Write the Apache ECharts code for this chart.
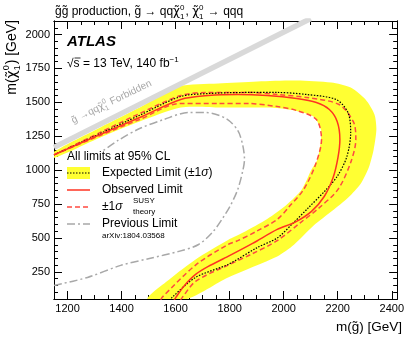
<!DOCTYPE html>
<html>
<head>
<meta charset="utf-8">
<script src="https://cdn.jsdelivr.net/npm/echarts@6/dist/echarts.min.js"></script>
<style>
html, body { margin: 0; padding: 0; background: #fff; }
#main { width: 407px; height: 340px; }
</style>
</head>
<body>
<div id="main"></div>
<script>
var FONT = '"Liberation Sans", "DejaVu Sans", Arial, sans-serif'
var GREEK = '"DejaVu Sans", "Liberation Sans", sans-serif'

// tick labels
var xLabels = [1200, 1400, 1600, 1800, 2000, 2200, 2400]
var yLabels = [250, 500, 750, 1000, 1250, 1500, 1750, 2000]

// limits, [m(gluino), m(neutralino)] in GeV
var observed = [[1150,1113],[1321,1263],[1467,1388],[1619,1521],[1721,1550],[1830,1558],[1939,1550],[2048,1528],[2121,1499],[2169,1447],[2198,1359],[2208,1226],[2201,1094],[2183,946],[2150,806],[2103,696],[2041,615],[1976,563],[1885,460],[1794,364],[1721,290],[1674,231],[1630,143],[1601,62],[1594,40]]
var expected = [[1150,1113],[1321,1270],[1467,1405],[1619,1543],[1721,1565],[1867,1573],[1976,1573],[2085,1558],[2194,1521],[2238,1425],[2248,1278],[2234,1101],[2200,960],[2158,858],[2090,720],[2030,600],[1976,500],[1903,430],[1794,305],[1674,209],[1587,62],[1580,40]]
var theoryUp = [[1150,1113],[1321,1278],[1467,1418],[1619,1550],[1721,1573],[1867,1573],[1976,1558],[2085,1536],[2205,1484],[2259,1352],[2267,1226],[2248,1057],[2201,858],[2130,720],[2060,610],[1976,480],[1880,380],[1794,300],[1674,180],[1625,62],[1618,40]]
var theoryDown = [[1150,1113],[1321,1256],[1467,1374],[1619,1492],[1757,1492],[1867,1492],[1976,1469],[2048,1440],[2121,1374],[2140,1226],[2118,1042],[2074,858],[2020,730],[1976,637],[1900,550],[1830,480],[1794,452],[1674,300],[1550,62],[1545,40]]
var bandOuter = [[1150,1135],[1321,1315],[1467,1462],[1612,1617],[1757,1639],[1903,1654],[2048,1661],[2176,1646],[2248,1609],[2303,1521],[2336,1411],[2343,1300],[2333,1153],[2315,1020],[2285,900],[2240,800],[2180,700],[2110,590],[2038,450],[1976,364],[1794,209],[1641,50]]
var bandInner = [[1150,1090],[1321,1241],[1467,1359],[1619,1462],[1757,1462],[1903,1462],[1976,1458],[2048,1436],[2110,1396],[2138,1300],[2138,1226],[2125,1079],[2103,1005],[2067,858],[2012,747],[1939,640],[1850,540],[1794,485],[1674,342],[1580,200],[1496,50]]
var previous = [[1150,150],[1274,209],[1397,298],[1503,349],[1612,401],[1685,452],[1739,548],[1776,651],[1805,747],[1830,858],[1848,990],[1855,1079],[1848,1189],[1830,1293],[1787,1381],[1710,1425],[1648,1425],[1557,1374],[1467,1307],[1387,1219],[1328,1138]]
var forbidden = [[1150,1168],[2100,2118]]

var bandPoly = bandOuter.concat(bandInner.slice().reverse())

function steps(lo, hi, d){
	var out = []
	for(var v = lo; v <= hi; v += d) out.push(v)
	return out
}

function xAx(pos, ticks, len, labels){
	return {
		type: 'value', min: 1150, max: 2420, position: pos,
		axisLine: {show: true, onZero: false, lineStyle: {color: '#000', width: 1}},
		axisTick: {show: true, inside: true, length: len, customValues: ticks, lineStyle: {color: '#000'}},
		axisLabel: labels ? {show: true, customValues: xLabels, margin: 4, color: '#000', fontSize: 11, fontFamily: FONT,
			formatter: function(v){ return String(v) }} : {show: false},
		splitLine: {show: false}
	}
}
function yAx(pos, ticks, len, labels){
	return {
		type: 'value', min: 50, max: 2100, position: pos,
		axisLine: {show: true, onZero: false, lineStyle: {color: '#000', width: 1}},
		axisTick: {show: true, inside: true, length: len, customValues: ticks, lineStyle: {color: '#000'}},
		axisLabel: labels ? {show: true, customValues: yLabels, margin: 4, color: '#000', fontSize: 11, fontFamily: FONT,
			formatter: function(v){ return String(v) }} : {show: false},
		splitLine: {show: false}
	}
}

// text laid out piece by piece so sub/superscripts can be stacked
var ctx = document.createElement('canvas').getContext('2d')
function fnt(size, p){
	p = p || {}
	return (p.i ? 'italic ' : '') + (p.b ? 'bold ' : '') + size + 'px ' + (p.g ? GREEK : FONT)
}
function wid(t, f){ ctx.font = f; return ctx.measureText(t).width }

function pieces(x, y, parts, size, opt){
	opt = opt || {}
	var color = opt.color || '#000'
	var kids = []
	var cx = 0
	parts.forEach(function(p){
		if(typeof p === 'string') p = {t: p}
		if(p.t !== undefined){
			var f = fnt(size, p)
			kids.push({type: 'text', x: cx, y: 0, style: {text: p.t, font: f, fill: color,
				align: 'left', textAlign: 'left', verticalAlign: 'middle', textVerticalAlign: 'middle'}})
			cx += wid(p.t, f)
		} else {
			var s = Math.round(size * 0.65)
			var f2 = fnt(s)
			var w = 0
			if(p.sup){
				kids.push({type: 'text', x: cx, y: -size * 0.38, style: {text: p.sup, font: f2, fill: color,
					align: 'left', textAlign: 'left', verticalAlign: 'middle', textVerticalAlign: 'middle'}})
				w = Math.max(w, wid(p.sup, f2))
			}
			if(p.sub){
				kids.push({type: 'text', x: cx, y: size * 0.36, style: {text: p.sub, font: f2, fill: color,
					align: 'left', textAlign: 'left', verticalAlign: 'middle', textVerticalAlign: 'middle'}})
				w = Math.max(w, wid(p.sub, f2))
			}
			cx += w + 1
		}
	})
	if(opt.right) kids.forEach(function(k){ k.x -= cx })
	return {type: 'group', x: x, y: y, rotation: opt.rot || 0, silent: true, z: 100, children: kids}
}

var chi = {t: '\u03c7\u0303', g: true}
var n01 = {sup: '0', sub: '1'}
var gt = 'g\u0303'

var chart = echarts.init(document.getElementById('main'), null, {renderer: 'canvas'})
var option = {
	animation: false,
	backgroundColor: '#fff',
	grid: {left: 54, right: 5, top: 21, bottom: 41},
	xAxis: [
		xAx('bottom', xLabels, 8, true),
		xAx('bottom', steps(1200, 2400, 50), 4, false),
		xAx('top', xLabels, 8, false),
		xAx('top', steps(1200, 2400, 50), 4, false)
	],
	yAxis: [
		yAx('left', yLabels, 8, true),
		yAx('left', steps(100, 2050, 50), 4, false),
		yAx('right', yLabels, 8, false),
		yAx('right', steps(100, 2050, 50), 4, false)
	],
	series: [
		{
			type: 'custom', name: 'band', clip: true, z: 1,
			renderItem: function(params, api){
				var pts = bandPoly.map(function(p){ return api.coord(p) })
				return {type: 'polygon', shape: {points: pts, smooth: 0.25}, style: {fill: '#ffff33', stroke: null}}
			},
			data: [0]
		},
		{type: 'line', name: 'forbidden', data: forbidden, showSymbol: false, z: 2,
			lineStyle: {color: '#d9d9d9', width: 5.5}},
		{type: 'line', name: 'previous', data: previous, smooth: 0.3, showSymbol: false, z: 3,
			lineStyle: {color: '#a8a8a8', width: 1.5, type: [8, 3, 2, 3]}},
		{type: 'line', name: 'up', data: theoryUp, smooth: 0.3, showSymbol: false, z: 4,
			lineStyle: {color: '#ff4a40', width: 1.5, type: [5, 3]}},
		{type: 'line', name: 'down', data: theoryDown, smooth: 0.3, showSymbol: false, z: 4,
			lineStyle: {color: '#ff4a40', width: 1.5, type: [5, 3]}},
		{type: 'line', name: 'expected', data: expected, smooth: 0.3, showSymbol: false, z: 5,
			lineStyle: {color: '#000', width: 1.2, type: [1.5, 1.5]}},
		{type: 'line', name: 'observed', data: observed, smooth: 0.3, showSymbol: false, z: 6,
			lineStyle: {color: '#ff3322', width: 1.5}}
	],
	graphic: [
		// title
		pieces(55, 12, [gt + gt + ' production, ' + gt + ' \u2192 qq', chi, n01, ', ', chi, n01, ' \u2192 qqq'], 12),
		// axis names
		pieces(402, 327, ['m(' + gt + ') [GeV]'], 13.5, {right: true}),
		pieces(12, 20, ['m(', chi, n01, ') [GeV]'], 14, {right: true, rot: Math.PI / 2}),
		// ATLAS label
		pieces(67, 42, [{t: 'ATLAS', i: true, b: true}], 15),
		pieces(67, 64, ['\u221as = 13 TeV, 140 fb', {sup: '\u22121'}], 12),
		{type: 'line', silent: true, z: 100, shape: {x1: 74.5, y1: 58, x2: 80.5, y2: 58}, style: {stroke: '#000', lineWidth: 0.8}},
		// forbidden
		pieces(72, 121, [gt + ' \u2192qq', chi, n01, ' Forbidden'], 10, {color: '#a8a8a8', rot: 0.45}),
		// legend
		pieces(67, 157, ['All limits at 95% CL'], 12),
		{type: 'rect', silent: true, z: 100, shape: {x: 67, y: 167, width: 23, height: 12}, style: {fill: '#ffff33'}},
		{type: 'line', silent: true, z: 101, shape: {x1: 67, y1: 173, x2: 90, y2: 173}, style: {stroke: '#000', lineWidth: 1.2, lineDash: [1.5, 1.5]}},
		pieces(102, 173, ['Expected Limit (\u00b11', {t: '\u03c3', i: true}, ')'], 12),
		{type: 'line', silent: true, z: 101, shape: {x1: 67, y1: 190, x2: 90, y2: 190}, style: {stroke: '#ff3322', lineWidth: 1.5}},
		pieces(102, 190, ['Observed Limit'], 12),
		{type: 'line', silent: true, z: 101, shape: {x1: 67, y1: 207, x2: 90, y2: 207}, style: {stroke: '#ff4a40', lineWidth: 1.5, lineDash: [5, 3]}},
		pieces(102, 207, ['\u00b11', {t: '\u03c3', i: true}], 12),
		pieces(133, 201, ['SUSY'], 8),
		pieces(133, 212, ['theory'], 8),
		{type: 'line', silent: true, z: 101, shape: {x1: 67, y1: 224, x2: 90, y2: 224}, style: {stroke: '#a8a8a8', lineWidth: 1.5, lineDash: [8, 3, 2, 3]}},
		pieces(102, 224, ['Previous Limit'], 12),
		pieces(102, 236, ['arXiv:1804.03568'], 8)
	]
}
chart.setOption(option)
</script>
</body>
</html>
